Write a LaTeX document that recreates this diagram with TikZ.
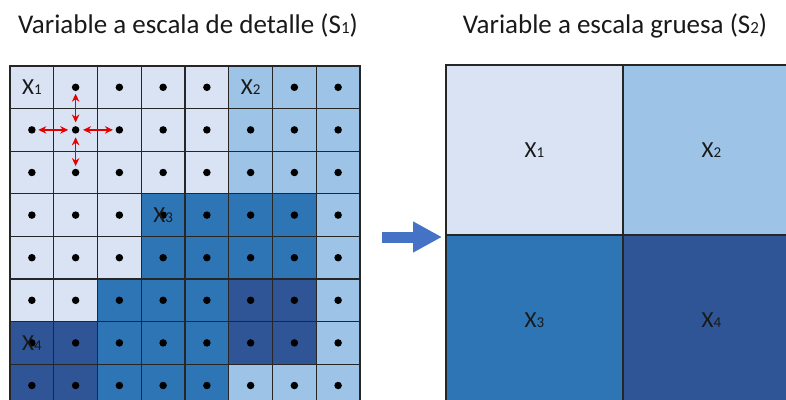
\documentclass[tikz,border=0pt]{standalone}
\usepackage{fontspec}
\setmainfont{Carlito}
\usetikzlibrary{arrows.meta}
\definecolor{cL}{HTML}{DAE3F3}
\definecolor{cM}{HTML}{9DC3E6}
\definecolor{cB}{HTML}{2E75B6}
\definecolor{cD}{HTML}{2F5597}
\definecolor{azulflecha}{HTML}{4472C4}
\newcommand{\varlab}[2]{#1{\fontsize{15}{16}\selectfont #2}}
\newcommand{\titsub}[1]{{\fontsize{17}{18}\selectfont #1}}

\begin{document}
\begin{tikzpicture}[
  x=1pt, y=-1pt,
  every node/.style={text=black!90},
  celda/.style={
    draw=black!85,
    line width=1.3pt,
    minimum width=43.75pt,
    minimum height=42.6pt,
    inner sep=0pt,
    outer sep=0pt,
    font=\fontsize{23}{26}\selectfont
  },
  bloque/.style={
    draw=black!85,
    line width=1.3pt,
    minimum width=177pt,
    minimum height=170pt,
    inner sep=0pt,
    outer sep=0pt,
    font=\fontsize{23}{26}\selectfont
  },
  punto/.style={circle, fill=black, inner sep=0pt, minimum size=7.5pt},
  vecino/.style={{Stealth[length=8pt,width=7.5pt]}-{Stealth[length=8pt,width=7.5pt]}, red!90!black, line width=1.2pt, shorten <=3.5pt, shorten >=2.5pt},
  flecha/.style={-{Triangle[length=29pt,width=29pt]}, azulflecha, line width=11pt, shorten >=4pt},
  titulo/.style={anchor=base, font=\fontsize{27}{30}\selectfont}
]
\useasboundingbox (0,0) rectangle (786,399);
\clip (0,0) rectangle (786,399);

\node[titulo] (t1) at (188,33) {Variable a escala de detalle (S\titsub{1})};
\node[titulo] (t2) at (615,33) {Variable a escala gruesa (S\titsub{2})};

\foreach \fila [count=\r] in {{L,L,L,L,L,M,M,M},{L,L,L,L,L,M,M,M},{L,L,L,L,L,M,M,M},{L,L,L,B,B,B,B,M},{L,L,L,B,B,B,B,M},{L,L,B,B,B,D,D,M},{D,D,B,B,B,D,D,M},{D,D,B,B,B,M,M,M}}
  \foreach \tono [count=\c] in \fila
    \node[celda, fill=c\tono] (s-\c-\r) at ({10+(\c-0.5)*43.75},{66+(\r-0.5)*42.6}) {};

\foreach \r in {1,...,8}
  \foreach \c in {1,...,8}
    {\ifnum\numexpr\r*10+\c\relax=11 \else\ifnum\numexpr\r*10+\c\relax=16 \else
      \node[punto] (d-\c-\r) at (s-\c-\r) {};
    \fi\fi}

\node[celda, draw=none] (x1) at (s-1-1) {\varlab{X}{1}};
\node[celda, draw=none] (x2) at (s-6-1) {\varlab{X}{2}};
\node[celda, draw=none] (x3) at (s-4-4) {\varlab{X}{3}};
\node[celda, draw=none] (x4) at (s-1-7) {\varlab{X}{4}};

\foreach \v in {d-2-1,d-1-2,d-3-2,d-2-3}
  \draw[vecino] (d-2-2) -- (\v);

\node[bloque, fill=cL] (q1) at (534.5,150) {\varlab{X}{1}};
\node[bloque, fill=cM, anchor=west] (q2) at (q1.east) {\varlab{X}{2}};
\node[bloque, fill=cB, anchor=north] (q3) at (q1.south) {\varlab{X}{3}};
\node[bloque, fill=cD, anchor=west] (q4) at (q3.east) {\varlab{X}{4}};

\coordinate (inicio) at (382,237);
\draw[flecha] (inicio) -- (inicio -| q1.west);
\end{tikzpicture}
\end{document}
